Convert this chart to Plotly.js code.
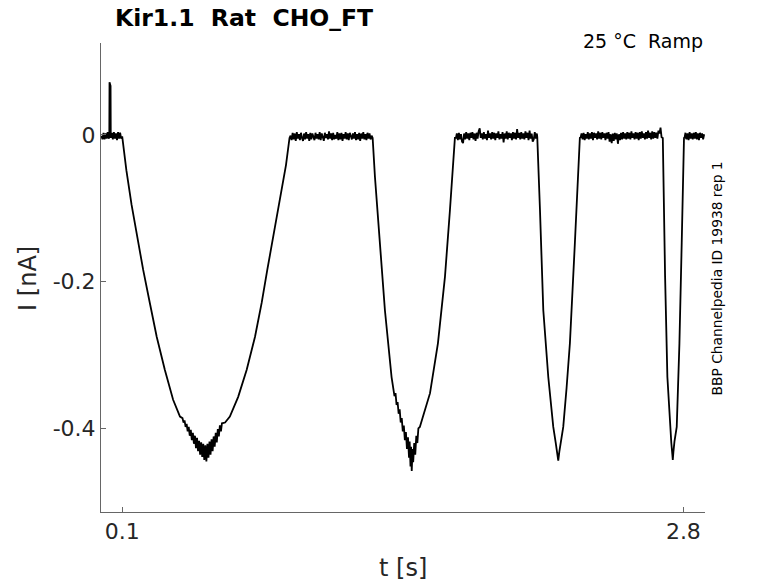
<!DOCTYPE html>
<html>
<head>
<meta charset="utf-8">
<script src="https://cdn.plot.ly/plotly-3.0.1.min.js"></script>
<style>
  html, body { margin: 0; padding: 0; background: #fff; }
  #chart { width: 778px; height: 583px; }
</style>
</head>
<body>
<div id="chart"></div>
<script>
const flatStart = [
  [0.000, -0.001], [0.005, -0.006], [0.010, 0.003], [0.015, -0.006], [0.020, 0.002],
  [0.025, -0.005], [0.030, 0.004], [0.035, -0.005], [0.038, -0.002], [0.039, 0.072],
  [0.044, 0.067], [0.045, -0.004], [0.050, 0.003], [0.055, -0.006], [0.060, 0.004],
  [0.065, -0.005], [0.070, 0.002], [0.075, -0.007], [0.080, 0.004], [0.085, -0.005],
  [0.090, 0.003], [0.095, -0.005], [0.100, -0.002]
];
const well1 = [
  [0.120, -0.048], [0.145, -0.095], [0.201, -0.184], [0.233, -0.229], [0.266, -0.275],
  [0.305, -0.320], [0.345, -0.361], [0.378, -0.384], [0.390, -0.386], [0.395, -0.392],
  [0.400, -0.389], [0.405, -0.398], [0.410, -0.394], [0.415, -0.404], [0.420, -0.398],
  [0.425, -0.410], [0.430, -0.402], [0.435, -0.416], [0.440, -0.406], [0.445, -0.421],
  [0.450, -0.410], [0.455, -0.427], [0.460, -0.413], [0.465, -0.431], [0.470, -0.417],
  [0.475, -0.436], [0.480, -0.419], [0.485, -0.439], [0.490, -0.421], [0.495, -0.443],
  [0.500, -0.423], [0.505, -0.445], [0.510, -0.421], [0.515, -0.440], [0.520, -0.418],
  [0.525, -0.436], [0.530, -0.415], [0.535, -0.431], [0.540, -0.411], [0.545, -0.425],
  [0.550, -0.406], [0.555, -0.419], [0.560, -0.401], [0.565, -0.411], [0.570, -0.396],
  [0.575, -0.404], [0.580, -0.393], [0.595, -0.392], [0.618, -0.384], [0.658, -0.357],
  [0.699, -0.320], [0.739, -0.275], [0.771, -0.229], [0.798, -0.184], [0.867, -0.077],
  [0.888, -0.041], [0.905, -0.004]
];
const flat1 = [
  [0.910, -0.001], [0.915, -0.007], [0.920, 0.003], [0.925, -0.006], [0.930, 0.002],
  [0.935, -0.008], [0.940, 0.004], [0.945, -0.005], [0.950, 0.001], [0.955, -0.007],
  [0.960, 0.003], [0.965, -0.004], [0.970, -0.008], [0.975, 0.002], [0.980, -0.006],
  [0.985, 0.004], [0.990, -0.005], [0.995, 0.001], [1.000, -0.008], [1.005, 0.003],
  [1.010, -0.006], [1.015, 0.002], [1.020, -0.004], [1.025, -0.007], [1.030, 0.003],
  [1.035, -0.005], [1.040, 0.001], [1.045, -0.006], [1.050, 0.004], [1.055, -0.007],
  [1.060, 0.002], [1.065, -0.005], [1.070, -0.008], [1.075, 0.003], [1.080, -0.004],
  [1.085, 0.001], [1.090, -0.006], [1.095, 0.005], [1.100, -0.005], [1.105, 0.002],
  [1.110, -0.007], [1.115, 0.003], [1.120, -0.006], [1.125, 0.000], [1.130, -0.005],
  [1.135, 0.004], [1.140, -0.007], [1.145, 0.002], [1.150, -0.006], [1.155, 0.003],
  [1.160, -0.008], [1.165, 0.001], [1.170, -0.005], [1.175, 0.004], [1.180, -0.006],
  [1.185, 0.002], [1.190, -0.007], [1.195, 0.003], [1.200, -0.004], [1.205, -0.006],
  [1.210, 0.002], [1.215, -0.005], [1.220, 0.004], [1.225, -0.007], [1.230, 0.001],
  [1.235, -0.006], [1.240, 0.003], [1.245, -0.008], [1.250, 0.002], [1.255, -0.005],
  [1.260, 0.004], [1.265, -0.006], [1.270, 0.001], [1.275, -0.007], [1.280, 0.003],
  [1.285, -0.005], [1.290, 0.002], [1.295, -0.006], [1.300, -0.001]
];
const well2 = [
  [1.305, -0.004], [1.316, -0.057], [1.340, -0.147], [1.364, -0.239], [1.396, -0.330],
  [1.405, -0.345], [1.410, -0.356], [1.415, -0.352], [1.420, -0.368], [1.425, -0.364],
  [1.430, -0.380], [1.435, -0.374], [1.440, -0.392], [1.445, -0.386], [1.450, -0.404],
  [1.455, -0.396], [1.460, -0.416], [1.465, -0.405], [1.470, -0.428], [1.475, -0.412],
  [1.480, -0.440], [1.483, -0.418], [1.487, -0.452], [1.490, -0.425], [1.493, -0.458],
  [1.497, -0.428], [1.500, -0.446], [1.505, -0.420], [1.510, -0.436], [1.515, -0.410],
  [1.520, -0.420], [1.525, -0.400], [1.532, -0.398], [1.545, -0.386], [1.556, -0.376],
  [1.581, -0.352], [1.619, -0.284], [1.653, -0.193], [1.677, -0.102], [1.701, -0.003]
];
const flat2 = [
  [1.705, -0.005], [1.710, 0.002], [1.715, -0.007], [1.720, 0.003], [1.725, -0.006],
  [1.730, 0.001], [1.735, -0.009], [1.740, -0.011], [1.745, 0.002], [1.750, -0.006],
  [1.755, 0.004], [1.760, -0.005], [1.765, 0.002], [1.770, -0.007], [1.775, 0.003],
  [1.780, -0.004], [1.785, 0.004], [1.790, -0.006], [1.795, 0.002], [1.800, -0.008],
  [1.805, 0.003], [1.810, -0.005], [1.815, 0.005], [1.820, 0.009], [1.825, -0.004],
  [1.830, 0.002], [1.835, -0.006], [1.840, 0.004], [1.845, -0.005], [1.850, 0.001],
  [1.855, -0.007], [1.860, 0.006], [1.865, -0.004], [1.870, 0.002], [1.875, -0.006],
  [1.880, 0.004], [1.885, -0.005], [1.890, 0.003], [1.895, -0.007], [1.900, 0.002],
  [1.905, -0.004], [1.910, 0.005], [1.915, -0.006], [1.920, 0.001], [1.925, -0.005],
  [1.930, 0.004], [1.935, -0.010], [1.940, 0.002], [1.945, -0.005], [1.950, 0.005],
  [1.955, -0.006], [1.960, 0.003], [1.965, -0.004], [1.970, 0.002], [1.975, -0.007],
  [1.980, 0.004], [1.985, -0.005], [1.990, 0.003], [1.995, -0.006], [2.000, 0.008],
  [2.005, -0.004], [2.010, 0.003], [2.015, -0.006], [2.020, 0.004], [2.025, -0.005],
  [2.030, 0.002], [2.035, -0.006], [2.040, 0.005], [2.045, -0.004], [2.050, 0.003],
  [2.055, -0.007], [2.060, 0.006], [2.065, -0.005], [2.070, 0.002], [2.075, -0.009],
  [2.080, -0.006], [2.085, 0.004], [2.090, -0.005], [2.095, 0.002]
];
const well3 = [
  [2.097, -0.003], [2.110, -0.102], [2.126, -0.239], [2.150, -0.330], [2.162, -0.367],
  [2.174, -0.398], [2.186, -0.420], [2.193, -0.436], [2.198, -0.444], [2.203, -0.432],
  [2.210, -0.420], [2.222, -0.398], [2.238, -0.345], [2.254, -0.284], [2.278, -0.147],
  [2.294, -0.057], [2.302, -0.003]
];
const flat3 = [
  [2.305, -0.004], [2.310, 0.002], [2.315, -0.006], [2.320, 0.003], [2.325, -0.007],
  [2.330, 0.001], [2.335, -0.005], [2.340, 0.004], [2.345, -0.006], [2.350, 0.002],
  [2.355, -0.005], [2.360, 0.004], [2.365, -0.007], [2.370, 0.003], [2.375, -0.004],
  [2.380, 0.002], [2.385, -0.006], [2.390, 0.005], [2.395, -0.005], [2.400, 0.003],
  [2.405, -0.006], [2.410, 0.004], [2.415, -0.004], [2.420, 0.002], [2.425, -0.007],
  [2.430, 0.003], [2.435, -0.005], [2.440, 0.004], [2.445, -0.009], [2.450, 0.001],
  [2.455, -0.011], [2.460, 0.002], [2.465, -0.008], [2.470, 0.003], [2.475, -0.006],
  [2.480, 0.002], [2.485, -0.012], [2.490, 0.001], [2.495, -0.007], [2.500, 0.003],
  [2.505, -0.006], [2.510, 0.004], [2.515, -0.005], [2.520, 0.002], [2.525, -0.006],
  [2.530, 0.004], [2.535, -0.005], [2.540, 0.003], [2.545, -0.006], [2.550, 0.005],
  [2.555, -0.004], [2.560, 0.002], [2.565, -0.006], [2.570, 0.004], [2.575, -0.005],
  [2.580, 0.003], [2.585, -0.007], [2.590, 0.004], [2.595, -0.005], [2.600, 0.005],
  [2.605, -0.004], [2.610, 0.002], [2.615, -0.006], [2.620, 0.004], [2.625, -0.005],
  [2.630, 0.006], [2.635, -0.004], [2.640, 0.003], [2.645, -0.006], [2.650, 0.005],
  [2.655, -0.005], [2.660, 0.004], [2.665, -0.004], [2.670, 0.003], [2.675, -0.005],
  [2.680, 0.006], [2.685, 0.002], [2.690, 0.010], [2.695, -0.003]
];
const well4 = [
  [2.701, -0.004], [2.704, -0.057], [2.712, -0.193], [2.723, -0.330], [2.736, -0.398],
  [2.742, -0.420], [2.747, -0.436], [2.749, -0.443], [2.752, -0.432], [2.757, -0.418],
  [2.768, -0.398], [2.781, -0.284], [2.792, -0.147], [2.800, -0.011], [2.803, -0.003]
];
const flatEnd = [
  [2.805, -0.005], [2.810, 0.003], [2.815, -0.006], [2.820, 0.002], [2.825, -0.007],
  [2.830, 0.004], [2.835, -0.005], [2.840, 0.002], [2.845, -0.006], [2.850, 0.003],
  [2.855, -0.005], [2.860, 0.004], [2.865, -0.006], [2.870, 0.002], [2.875, -0.007],
  [2.880, 0.003], [2.885, -0.004], [2.890, 0.002], [2.895, -0.006], [2.900, 0.001]
];

const xTickVals = [0.1, 2.8];
const xTickText = ["0.1", "2.8"];
const yTickVals = [0, -0.2, -0.4];
const yTickText = ["0", "-0.2", "-0.4"];

const trace = [flatStart, well1, flat1, well2, flat2, well3, flat3, well4, flatEnd].flat();

const font = "DejaVu Sans, sans-serif";
const axisColor = "#666666";
const textColor = "#262626";

let data = [{
  x: trace.map(p => p[0]),
  y: trace.map(p => p[1]),
  type: "scatter",
  mode: "lines",
  line: { color: "#000000", width: 1.8 },
  hoverinfo: "skip"
}];

function axis(range, vals, text) {
  return {
    range: range,
    tickvals: vals,
    ticktext: text,
    ticks: "inside",
    ticklen: 5,
    tickcolor: axisColor,
    showline: true,
    linecolor: axisColor,
    linewidth: 1,
    showgrid: false,
    zeroline: false,
    tickfont: { family: font, size: 22, color: textColor }
  };
}

let layout = {
  width: 778,
  height: 583,
  margin: { l: 101, r: 73, t: 43, b: 71 },
  paper_bgcolor: "#ffffff",
  plot_bgcolor: "#ffffff",
  showlegend: false,
  font: { family: font, color: textColor },
  title: {
    text: "<b>Kir1.1\u00a0\u00a0Rat\u00a0\u00a0CHO_FT</b>",
    font: { family: font, size: 23.5, color: "#000000" },
    xref: "container", x: 115 / 778, xanchor: "left",
    yref: "container", y: 1 - 18 / 583, yanchor: "middle"
  },
  xaxis: axis([-0.002, 2.904], xTickVals, xTickText),
  yaxis: axis([-0.514, 0.1254], yTickVals, yTickText),
  annotations: [
    { text: "25 °C\u00a0\u00a0Ramp", xref: "paper", yref: "paper", x: 1.0, y: 1.004,
      xanchor: "right", yanchor: "middle", showarrow: false,
      font: { family: font, size: 19, color: "#000000" } },
    { text: "BBP Channelpedia ID 19938 rep 1", xref: "paper", yref: "paper", x: 1.019, y: 0.499,
      xanchor: "center", yanchor: "middle", textangle: -90, showarrow: false,
      font: { family: font, size: 13.8, color: "#000000" } },
    { text: "I [nA]", xref: "paper", yref: "paper", x: -0.121, y: 0.499,
      xanchor: "center", yanchor: "middle", textangle: -90, showarrow: false,
      font: { family: font, size: 24, color: textColor } },
    { text: "t [s]", xref: "paper", yref: "paper", x: 0.5, y: -0.119,
      xanchor: "center", yanchor: "middle", showarrow: false,
      font: { family: font, size: 24, color: textColor } }
  ]
};

Plotly.newPlot("chart", data, layout, { staticPlot: true, displayModeBar: false });
</script>
</body>
</html>
